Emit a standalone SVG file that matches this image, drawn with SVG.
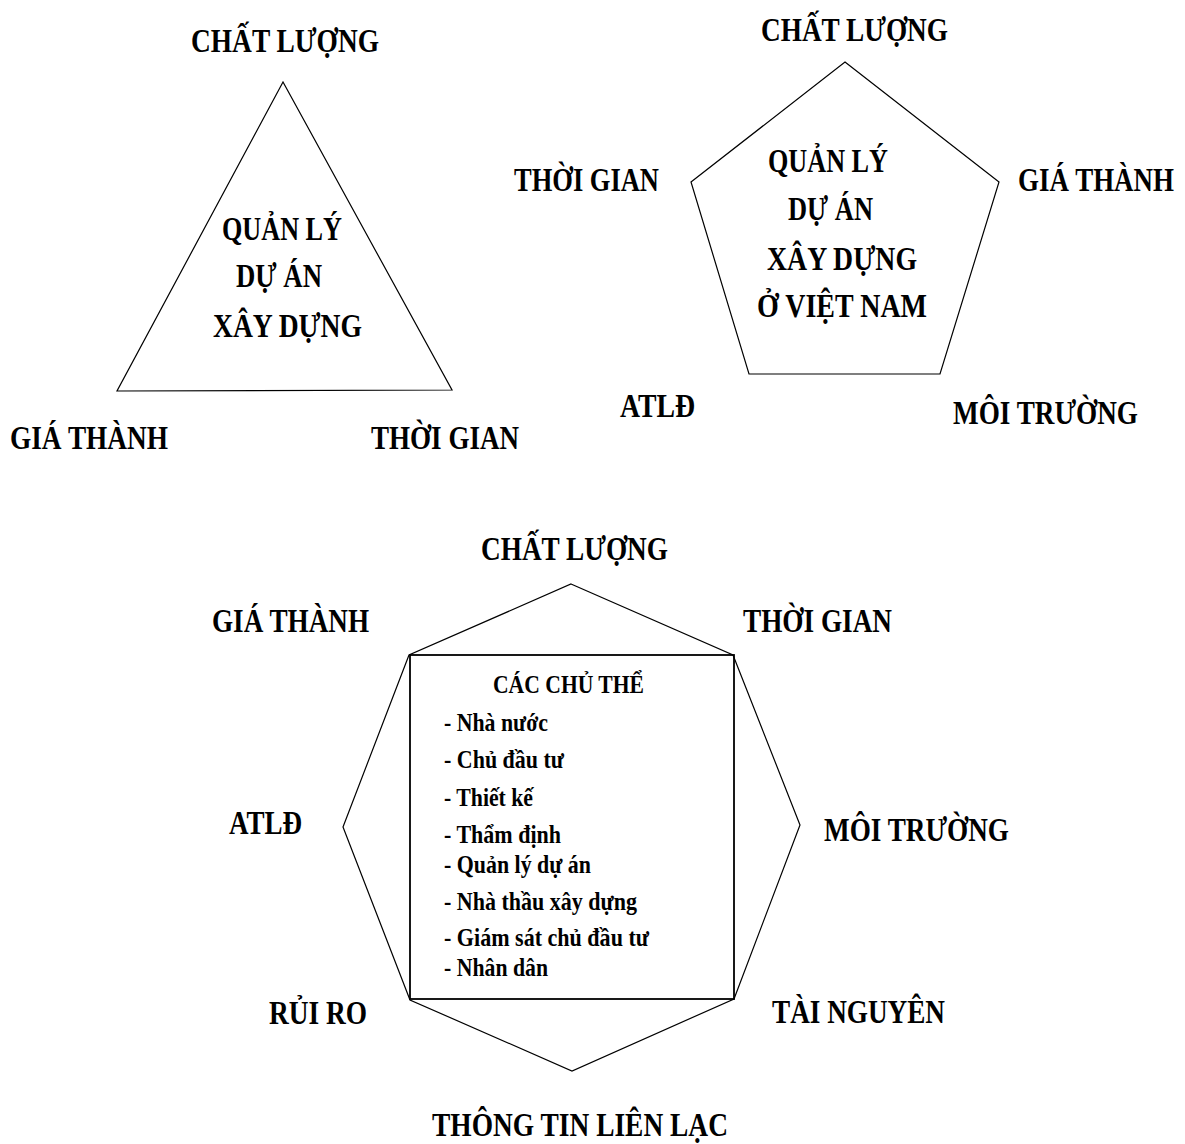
<svg xmlns="http://www.w3.org/2000/svg" width="1185" height="1144" viewBox="0 0 1185 1144">
  <style>
    .shape { fill: none; stroke: #000; stroke-width: 1.2; stroke-linejoin: miter; }
    .box { fill: none; stroke: #000; stroke-width: 1.8; }
    .lbl { font-family: "Liberation Serif", "Times New Roman", serif; font-weight: bold; font-size: 33px; fill: #000; }
    .item { font-family: "Liberation Serif", "Times New Roman", serif; font-weight: bold; font-size: 25px; fill: #000; }
  </style>
  <rect x="0" y="0" width="1185" height="1144" fill="#fff"/>

  <!-- Triangle model: quality, cost, time -->
  <g id="triangle-model">
    <g id="tri-core">
      <polygon class="shape" points="283,82 117,391 452,390"/>
      <text class="lbl" x="222" y="240" textLength="120" lengthAdjust="spacingAndGlyphs">QUẢN LÝ</text>
      <text class="lbl" x="236" y="287" textLength="86" lengthAdjust="spacingAndGlyphs">DỰ ÁN</text>
      <text class="lbl" x="213" y="337" textLength="149" lengthAdjust="spacingAndGlyphs">XÂY DỰNG</text>
    </g>
    <g id="tri-quality"><text class="lbl" x="191" y="52" textLength="188" lengthAdjust="spacingAndGlyphs">CHẤT LƯỢNG</text></g>
    <g id="tri-cost"><text class="lbl" x="10" y="449" textLength="158" lengthAdjust="spacingAndGlyphs">GIÁ THÀNH</text></g>
    <g id="tri-time"><text class="lbl" x="371" y="449" textLength="148" lengthAdjust="spacingAndGlyphs">THỜI GIAN</text></g>
  </g>

  <!-- Pentagon model: adds safety and environment -->
  <g id="pentagon-model">
    <g id="pent-core">
      <polygon class="shape" points="845,62 999,182 940,374 749,374 691,182"/>
      <text class="lbl" x="768" y="172" textLength="120" lengthAdjust="spacingAndGlyphs">QUẢN LÝ</text>
      <text class="lbl" x="788" y="220" textLength="85" lengthAdjust="spacingAndGlyphs">DỰ ÁN</text>
      <text class="lbl" x="767" y="270" textLength="150" lengthAdjust="spacingAndGlyphs">XÂY DỰNG</text>
      <text class="lbl" x="757" y="317" textLength="170" lengthAdjust="spacingAndGlyphs">Ở VIỆT NAM</text>
    </g>
    <g id="pent-quality"><text class="lbl" x="761" y="41" textLength="187" lengthAdjust="spacingAndGlyphs">CHẤT LƯỢNG</text></g>
    <g id="pent-time"><text class="lbl" x="514" y="191" textLength="145" lengthAdjust="spacingAndGlyphs">THỜI GIAN</text></g>
    <g id="pent-cost"><text class="lbl" x="1018" y="191" textLength="156" lengthAdjust="spacingAndGlyphs">GIÁ THÀNH</text></g>
    <g id="pent-safety"><text class="lbl" x="620" y="417" textLength="75" lengthAdjust="spacingAndGlyphs">ATLĐ</text></g>
    <g id="pent-environment"><text class="lbl" x="953" y="424" textLength="185" lengthAdjust="spacingAndGlyphs">MÔI TRƯỜNG</text></g>
  </g>

  <!-- Octagon model with the participating parties in the centre -->
  <g id="octagon-model">
    <g id="oct-core">
      <polygon class="shape" points="571,584 733,655 800,825 734,999 572,1071 410,1000 343,827 409,655"/>
      <rect class="box" x="410" y="655" width="324" height="344"/>
      <text class="item" x="493" y="693" textLength="151" lengthAdjust="spacingAndGlyphs">CÁC CHỦ THỂ</text>
      <text class="item" x="444" y="731" textLength="104" lengthAdjust="spacingAndGlyphs">- Nhà nước</text>
      <text class="item" x="444" y="768" textLength="120" lengthAdjust="spacingAndGlyphs">- Chủ đầu tư</text>
      <text class="item" x="444" y="806" textLength="89" lengthAdjust="spacingAndGlyphs">- Thiết kế</text>
      <text class="item" x="444" y="843" textLength="117" lengthAdjust="spacingAndGlyphs">- Thẩm định</text>
      <text class="item" x="444" y="873" textLength="147" lengthAdjust="spacingAndGlyphs">- Quản lý dự án</text>
      <text class="item" x="444" y="910" textLength="193" lengthAdjust="spacingAndGlyphs">- Nhà thầu xây dựng</text>
      <text class="item" x="444" y="946" textLength="205" lengthAdjust="spacingAndGlyphs">- Giám sát chủ đầu tư</text>
      <text class="item" x="444" y="976" textLength="104" lengthAdjust="spacingAndGlyphs">- Nhân dân</text>
    </g>
    <g id="oct-quality"><text class="lbl" x="481" y="560" textLength="187" lengthAdjust="spacingAndGlyphs">CHẤT LƯỢNG</text></g>
    <g id="oct-cost"><text class="lbl" x="212" y="632" textLength="157" lengthAdjust="spacingAndGlyphs">GIÁ THÀNH</text></g>
    <g id="oct-time"><text class="lbl" x="743" y="632" textLength="149" lengthAdjust="spacingAndGlyphs">THỜI GIAN</text></g>
    <g id="oct-safety"><text class="lbl" x="229" y="834" textLength="73" lengthAdjust="spacingAndGlyphs">ATLĐ</text></g>
    <g id="oct-environment"><text class="lbl" x="824" y="841" textLength="185" lengthAdjust="spacingAndGlyphs">MÔI TRƯỜNG</text></g>
    <g id="oct-risk"><text class="lbl" x="269" y="1024" textLength="98" lengthAdjust="spacingAndGlyphs">RỦI RO</text></g>
    <g id="oct-resources"><text class="lbl" x="772" y="1023" textLength="173" lengthAdjust="spacingAndGlyphs">TÀI NGUYÊN</text></g>
    <g id="oct-communication"><text class="lbl" x="432" y="1136" textLength="296" lengthAdjust="spacingAndGlyphs">THÔNG TIN LIÊN LẠC</text></g>
  </g>

  <!-- No connectors in this figure -->
  <g id="connectors"/>
</svg>
